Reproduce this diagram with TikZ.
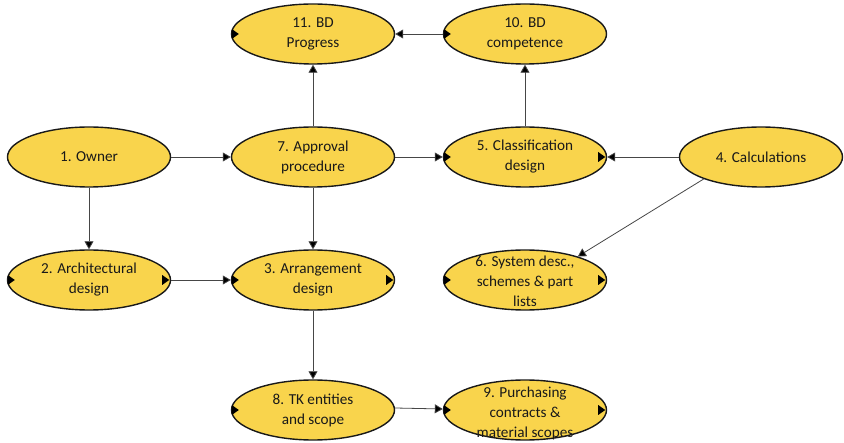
\documentclass[tikz,border=0pt]{standalone}
\usepackage{fontspec}
\setmainfont{Carlito}
\usetikzlibrary{shapes.geometric,arrows.meta}
\definecolor{stepfill}{RGB}{249,212,76}
\definecolor{edgeline}{RGB}{70,70,70}
\definecolor{inktext}{RGB}{25,25,25}
\begin{document}
\begin{tikzpicture}[x=1pt,y=-1pt,
  stepbox/.style={ellipse,draw=black!90,line width=1.4pt,fill=stepfill,
    minimum width=163pt,minimum height=60pt,inner sep=0pt},
  steptext/.style={align=center,text=inktext,inner sep=0pt,
    font=\fontsize{15.2}{20}\selectfont},
  flow/.style={draw=edgeline,line width=0.8pt,-{Triangle[length=8pt,width=9pt,fill=black]}},
  portmark/.style={fill=black,draw=none}
]
\useasboundingbox (0,0) rectangle (844,443);

% ellipses with their captions
\node[stepbox,label={[steptext]center:11. BD\\Progress}] (n11) at (313,34) {};
\node[stepbox,label={[steptext]center:10. BD\\competence}] (n10) at (525,34) {};
\node[stepbox,label={[steptext]center:1. Owner}] (n1) at (89,157) {};
\node[stepbox,label={[steptext]center:7. Approval\\procedure}] (n7) at (313,157) {};
\node[stepbox,label={[steptext]center:5. Classification\\design}] (n5) at (525,157) {};
\node[stepbox,label={[steptext]center:4. Calculations}] (n4) at (761,157) {};
\node[stepbox,label={[steptext]center:2. Architectural\\design}] (n2) at (89,280) {};
\node[stepbox,label={[steptext]center:3. Arrangement\\design}] (n3) at (313,280) {};
\node[stepbox,label={[steptext,yshift=-1pt]center:6. System desc.,\\schemes \& part\\lists}] (n6) at (525,280) {};
\node[stepbox,label={[steptext,yshift=-3pt]center:9. Purchasing\\contracts \&\\material scopes}] (n9) at (525,410) {};
\node[stepbox,label={[steptext]center:8. TK entities\\and scope}] (n8) at (313,410) {};

% small port triangles on the ellipse rims
\foreach \n in {n11,n10,n5,n2,n3,n6,n8,n9}
  \fill[portmark] ([xshift=1pt,yshift=-5pt]\n.west) -- ([xshift=8pt]\n.west) -- ([xshift=1pt,yshift=5pt]\n.west) -- cycle;
\foreach \n in {n5,n2,n3,n6,n9}
  \fill[portmark] ([xshift=-9pt,yshift=-5pt]\n.east) -- ([xshift=-2pt]\n.east) -- ([xshift=-9pt,yshift=5pt]\n.east) -- cycle;

% connectors
\draw[flow] (n1.east) -- (n7.west);
\draw[flow] (n1.south) -- (n2.north);
\draw[flow] (n7.north) -- (n11.south);
\draw[flow] (n7.south) -- (n3.north);
\draw[flow] (n7.east) -- (n5.west);
\draw[flow] (n10.west) -- (n11.east);
\draw[flow] (n5.north) -- (n10.south);
\draw[flow] (n4.west) -- (n5.east);
\draw[flow] (n4.201) -- (n6.24);
\draw[flow] (n2.east) -- (n3.west);
\draw[flow] (n3.south) -- (n8.north);
\draw[flow] ([yshift=2pt]n8.east) -- ([yshift=1pt]n9.west);
\end{tikzpicture}
\end{document}
